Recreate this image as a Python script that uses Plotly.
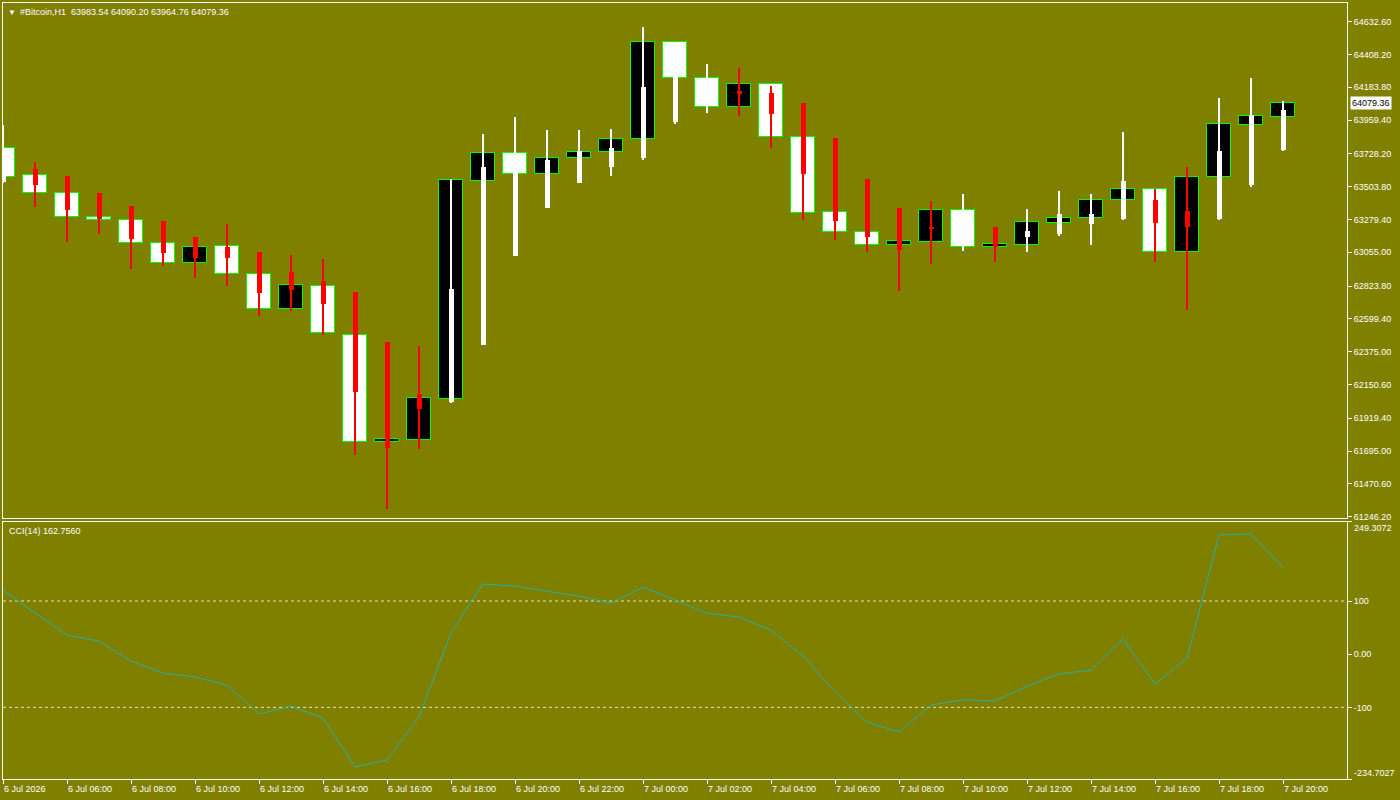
import plotly.graph_objects as go

# ---------------- data ----------------
symbol = "#Bitcoin,H1"
bar_idx = list(range(41))  # H1 bars from 6 Jul 04:00 to 7 Jul 20:00

open_ = [63766.5, 63581.8, 63458.7, 63294.5, 63273.9, 63116.6, 62979.8, 63096.1, 62904.5, 62669.2,
         62822.4, 62487.2, 61759.3, 61773.0, 62053.5, 63544.8, 63732.3, 63588.6, 63698.1, 63739.1,
         63828.1, 64491.7, 64245.4, 64047.0, 64204.3, 63841.8, 63328.7, 63191.8, 63102.9, 63127.5,
         63342.4, 63089.2, 63107.0, 63257.5, 63287.6, 63410.8, 63486.0, 63059.1, 63568.1, 63928.0,
         63983.54]
close = [63572.2, 63458.7, 63294.5, 63273.9, 63116.6, 62979.8, 63089.2, 62904.5, 62665.1, 62829.3,
         62500.9, 61759.3, 61775.7, 62056.2, 63547.6, 63732.3, 63588.6, 63698.1, 63739.1, 63828.1,
         64491.7, 64245.4, 64047.0, 64204.3, 63841.8, 63321.8, 63191.8, 63102.9, 63130.3, 63342.4,
         63089.2, 63111.8, 63260.3, 63287.6, 63410.8, 63486.0, 63059.1, 63568.1, 63932.7, 63985.4,
         64079.36]
last_high = 64090.20
last_low = 63964.76

ha_open = [63538.0, 63624.9, 63573.6, 63460.7, 63371.8, 63265.7, 63159.7, 63089.2, 63055.0, 62918.2,
           62858.7, 62781.4, 62441.4, 62082.2, 62032.9, 62418.1, 63026.3, 63358.1, 63525.7, 63635.2,
           63700.1, 63943.0, 64149.6, 64155.1, 64147.6, 64077.1, 63837.0, 63553.7, 63358.1, 63222.6,
           63218.5, 63228.1, 63160.4, 63176.8, 63245.2, 63279.4, 63409.4, 63334.8, 63282.8, 63515.4,
           63751.5]
ha_close = [63700.1, 63517.5, 63344.4, 63282.8, 63146.0, 63050.2, 63018.1, 63018.1, 62778.6, 62799.2,
            62703.4, 62099.3, 61716.2, 61983.0, 62803.9, 63638.6, 63686.5, 63686.5, 63748.0, 63768.6,
            64185.9, 64356.9, 64161.2, 64140.0, 64003.2, 63592.7, 63271.2, 63161.7, 63072.8, 63214.4,
            63237.7, 63093.3, 63200.7, 63317.0, 63317.0, 63542.8, 63257.5, 63228.1, 63748.0, 63994.3,
            64029.47]
ha_high = [63925.9, 63672.8, 63577.0, 63460.7, 63371.8, 63265.7, 63159.7, 63248.6, 63055.0, 63036.5,
           63009.2, 62781.4, 62441.4, 62414.0, 63556.5, 63864.3, 63980.6, 63891.7, 63891.7, 63898.5,
           64596.3, 64493.7, 64343.2, 64315.9, 64192.7, 64077.1, 63837.0, 63553.7, 63358.1, 63406.0,
           63453.9, 63228.1, 63351.2, 63474.4, 63453.9, 63878.0, 63488.1, 63636.5, 64110.6, 64247.4,
           64090.2]
ha_low = [63531.2, 63367.0, 63127.5, 63180.2, 62940.8, 62963.3, 62881.3, 62826.5, 62621.3, 62655.5,
          62489.3, 61668.3, 61298.9, 61709.4, 62026.1, 62418.1, 63026.3, 63358.1, 63525.7, 63579.1,
          63688.5, 63930.7, 64010.1, 63989.5, 63770.6, 63278.0, 63141.2, 63059.1, 62792.3, 62977.0,
          63066.0, 62990.7, 63057.1, 63168.6, 63105.0, 63276.0, 62988.7, 62660.3, 63278.0, 63503.8,
          63747.0]

cci_period = 14
cci = [120.7, 77.4, 36.0, 24.7, -12.9, -35.4, -43.0, -58.0, -112.6, -97.6,
       -120.0, -212.0, -199.0, -118.0, 40.0, 132.0, 128.0, 119.0, 109.0, 96.0,
       126.0, 102.0, 77.0, 70.0, 45.0, -3.5, -71.0, -128.0, -146.0, -95.7,
       -86.0, -88.0, -60.0, -37.0, -30.0, 28.6, -56.0, -7.0, 224.0, 226.0,
       162.756]
cci_levels = [100, -100]
cci_min, cci_max = -234.7027, 249.3072

price_ticks = [64632.60, 64408.20, 64183.80, 63959.40, 63728.20, 63503.80, 63279.40, 63055.00,
               62823.80, 62599.40, 62375.00, 62150.60, 61919.40, 61695.00, 61470.60, 61246.20]
cci_ticks = [100, 0, -100]
cci_tick_text = ["100", "0.00", "-100"]

x_tick_bars = list(range(0, 41, 2))
x_tick_labels = ["6 Jul 2026", "6 Jul 06:00", "6 Jul 08:00", "6 Jul 10:00", "6 Jul 12:00",
                 "6 Jul 14:00", "6 Jul 16:00", "6 Jul 18:00", "6 Jul 20:00", "6 Jul 22:00",
                 "7 Jul 00:00", "7 Jul 02:00", "7 Jul 04:00", "7 Jul 06:00", "7 Jul 08:00",
                 "7 Jul 10:00", "7 Jul 12:00", "7 Jul 14:00", "7 Jul 16:00", "7 Jul 18:00",
                 "7 Jul 20:00"]

# ---------------- styling ----------------
BG = "#808000"
FONT = "Liberation Sans"
FS = 9
PRICE_RANGE = [61233.8, 64760.5]
X_RANGE = [0, 42]

fig = go.Figure()

# price candles (bodies only; their wicks sit under the Heiken Ashi wicks)
box_fill = ["black" if c > o else "white" for o, c in zip(open_, close)]
fig.add_trace(go.Bar(
    x=bar_idx, base=[min(o, c) for o, c in zip(open_, close)],
    y=[abs(c - o) for o, c in zip(open_, close)],
    width=0.72, marker=dict(color=box_fill, line=dict(color="#00ff00", width=1)),
    xaxis="x", yaxis="y", showlegend=False, hoverinfo="skip"))

# Heiken Ashi
ha_col = ["white" if hc >= ho else "red" for ho, hc in zip(ha_open, ha_close)]
fig.add_trace(go.Bar(
    x=bar_idx, base=ha_low, y=[h - l for h, l in zip(ha_high, ha_low)],
    width=2 / 32, marker=dict(color=ha_col, line=dict(width=0)),
    xaxis="x", yaxis="y", showlegend=False, hoverinfo="skip"))
fig.add_trace(go.Bar(
    x=bar_idx, base=[min(o, c) for o, c in zip(ha_open, ha_close)],
    y=[max(abs(c - o), 8) for o, c in zip(ha_open, ha_close)],
    width=5 / 32, marker=dict(color=ha_col, line=dict(width=0)),
    xaxis="x", yaxis="y", showlegend=False, hoverinfo="skip"))

# CCI
fig.add_trace(go.Scatter(
    x=bar_idx, y=cci, mode="lines", line=dict(color="#20b2aa", width=1),
    xaxis="x2", yaxis="y2", showlegend=False, hoverinfo="skip"))

shapes = []
for lv in cci_levels:
    shapes.append(dict(type="line", xref="x2 domain", yref="y2", x0=0, x1=1, y0=lv, y1=lv,
                       line=dict(color="#e6e6b4", width=1, dash="dot"), layer="below"))

ann = []
# header
ann.append(dict(xref="paper", yref="paper", x=0, y=1, xanchor="left", yanchor="top",
                xshift=3, yshift=-3, showarrow=False, text="▼",
                font=dict(family=FONT, size=8, color="white")))
ann.append(dict(xref="paper", yref="paper", x=0, y=1, xanchor="left", yanchor="top",
                xshift=15, yshift=-2, showarrow=False,
                text=f"{symbol}  {open_[-1]:.2f} {last_high:.2f} {last_low:.2f} {close[-1]:.2f}",
                font=dict(family=FONT, size=FS, color="white")))
# CCI caption
ann.append(dict(xref="paper", yref="y2 domain", x=0, y=1, xanchor="left", yanchor="top",
                xshift=4, yshift=-2, showarrow=False,
                text=f"CCI({cci_period}) {cci[-1]:.4f}",
                font=dict(family=FONT, size=FS, color="white")))
# current price label
ann.append(dict(xref="paper", yref="y", x=1, y=close[-1], xanchor="left", yanchor="middle",
                xshift=3, showarrow=False, text=f"{close[-1]:.2f}", bgcolor="white",
                borderpad=1, font=dict(family=FONT, size=FS, color="black")))
# CCI extremes
ann.append(dict(xref="paper", yref="y2", x=1, y=cci_max, xanchor="left", yanchor="top",
                xshift=5, yshift=1, showarrow=False, text=f"{cci_max:.4f}",
                font=dict(family=FONT, size=FS, color="white")))
ann.append(dict(xref="paper", yref="y2", x=1, y=cci_min, xanchor="left", yanchor="bottom",
                xshift=5, yshift=-1, showarrow=False, text=f"{cci_min:.4f}",
                font=dict(family=FONT, size=FS, color="white")))
# time labels
for b, t in zip(x_tick_bars, x_tick_labels):
    ann.append(dict(xref="x2", yref="paper", x=b, y=0, xanchor="left", yanchor="top",
                    xshift=-1, yshift=-3, showarrow=False, text=t,
                    font=dict(family=FONT, size=FS, color="white")))

axis_common = dict(showgrid=False, zeroline=False, showline=True, mirror=True,
                   linecolor="white", linewidth=1)

fig.update_layout(
    width=1400, height=800,
    margin=dict(l=3, r=53, t=3, b=21),
    paper_bgcolor=BG, plot_bgcolor=BG,
    barmode="overlay", bargap=0,
    showlegend=False,
    font=dict(family=FONT, size=FS, color="white"),
    xaxis=dict(domain=[0, 1], range=X_RANGE, anchor="y", showticklabels=False, ticks="",
               **axis_common),
    yaxis=dict(domain=[0.3357, 1], range=PRICE_RANGE, anchor="x", side="right",
               tickvals=price_ticks, ticktext=[f"{v:.2f}" for v in price_ticks],
               ticks="outside", ticklen=4, tickcolor="white",
               tickfont=dict(family=FONT, size=FS, color="white"), **axis_common),
    xaxis2=dict(domain=[0, 1], range=X_RANGE, anchor="y2", showticklabels=False,
                tickvals=x_tick_bars, ticks="outside", ticklen=4, tickcolor="white",
                **axis_common),
    yaxis2=dict(domain=[0, 0.3317], range=[cci_min, cci_max], anchor="x2", side="right",
                tickvals=[cci_max] + cci_ticks + [cci_min], ticktext=[""] + cci_tick_text + [""],
                ticks="outside", ticklen=4, tickcolor="white",
                tickfont=dict(family=FONT, size=FS, color="white"), **axis_common),
    shapes=shapes, annotations=ann,
)

fig.write_html("out.html")
